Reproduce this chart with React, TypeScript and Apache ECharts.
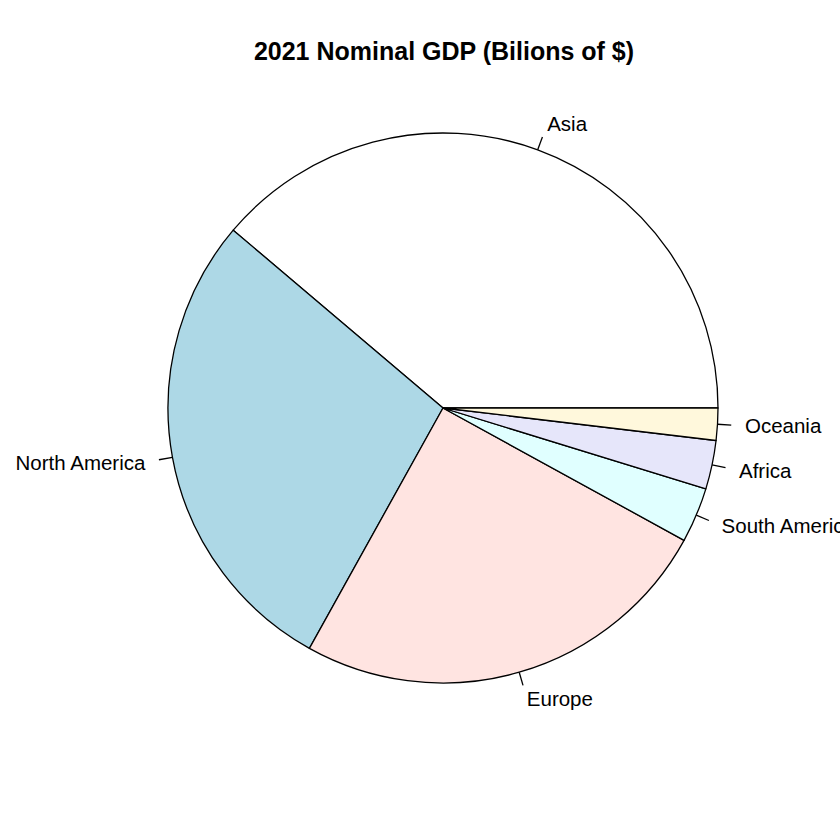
import React, { useEffect, useRef } from "react";
import * as echarts from "echarts";

const categories = ["Asia", "North America", "Europe", "South America", "Africa", "Oceania"];
const gdpValues = [36870, 26710, 23830, 3080, 2720, 1790];
const sliceColors = ["#FFFFFF", "#ADD8E6", "#FFE4E1", "#E0FFFF", "#E6E6FA", "#FFF8DC"];
const titleText = "2021 Nominal GDP (Bilions of $)";

const CX = 443;
const CY = 408;
const R = 275;

export default function App() {
  const ref = useRef<HTMLDivElement>(null);
  useEffect(() => {
    document.body.style.margin = "0";
    const chart = echarts.init(ref.current!, null, { renderer: "svg" });
    const total = gdpValues.reduce((a, b) => a + b, 0);
    const mids: number[] = [];
    let acc = 0;
    gdpValues.forEach((v) => {
      mids.push(((acc + v / 2) / total) * 2 * Math.PI);
      acc += v;
    });
    chart.setOption({
      animation: false,
      backgroundColor: "#FFFFFF",
      title: {
        text: titleText,
        left: 439,
        top: 33,
        textAlign: "center",
        textStyle: { fontFamily: "Liberation Sans", fontSize: 25, fontWeight: "bold", color: "#000" },
      },
      series: [
        {
          type: "pie",
          center: [CX, CY],
          radius: R,
          startAngle: 0,
          clockwise: false,
          avoidLabelOverlap: false,
          silent: true,
          emphasis: { disabled: true },
          data: categories.map((c, i) => ({
            name: c,
            value: gdpValues[i],
            itemStyle: { color: sliceColors[i] },
          })),
          itemStyle: { borderColor: "#000", borderWidth: 1.3 },
          label: {
            show: true,
            position: "outside",
            formatter: "{b}",
            fontFamily: "Liberation Sans",
            fontSize: 20.5,
            color: "#000",
          },
          labelLine: { show: true, length: 14, length2: 0, lineStyle: { color: "#000", width: 1.3 } },
          labelLayout: (params: any) => {
            const t = mids[params.dataIndex];
            const c = Math.cos(t);
            const s = Math.sin(t);
            return {
              x: CX + 1.1 * R * c,
              y: CY - 1.1 * R * s,
              align: c >= 0 ? "left" : "right",
              verticalAlign: "middle",
              labelLinePoints: [
                [CX + R * c, CY - R * s],
                [CX + 1.05 * R * c, CY - 1.05 * R * s],
              ],
            };
          },
        },
      ],
    });
    return () => chart.dispose();
  }, []);
  return <div ref={ref} style={{ width: 840, height: 840 }} />;
}
